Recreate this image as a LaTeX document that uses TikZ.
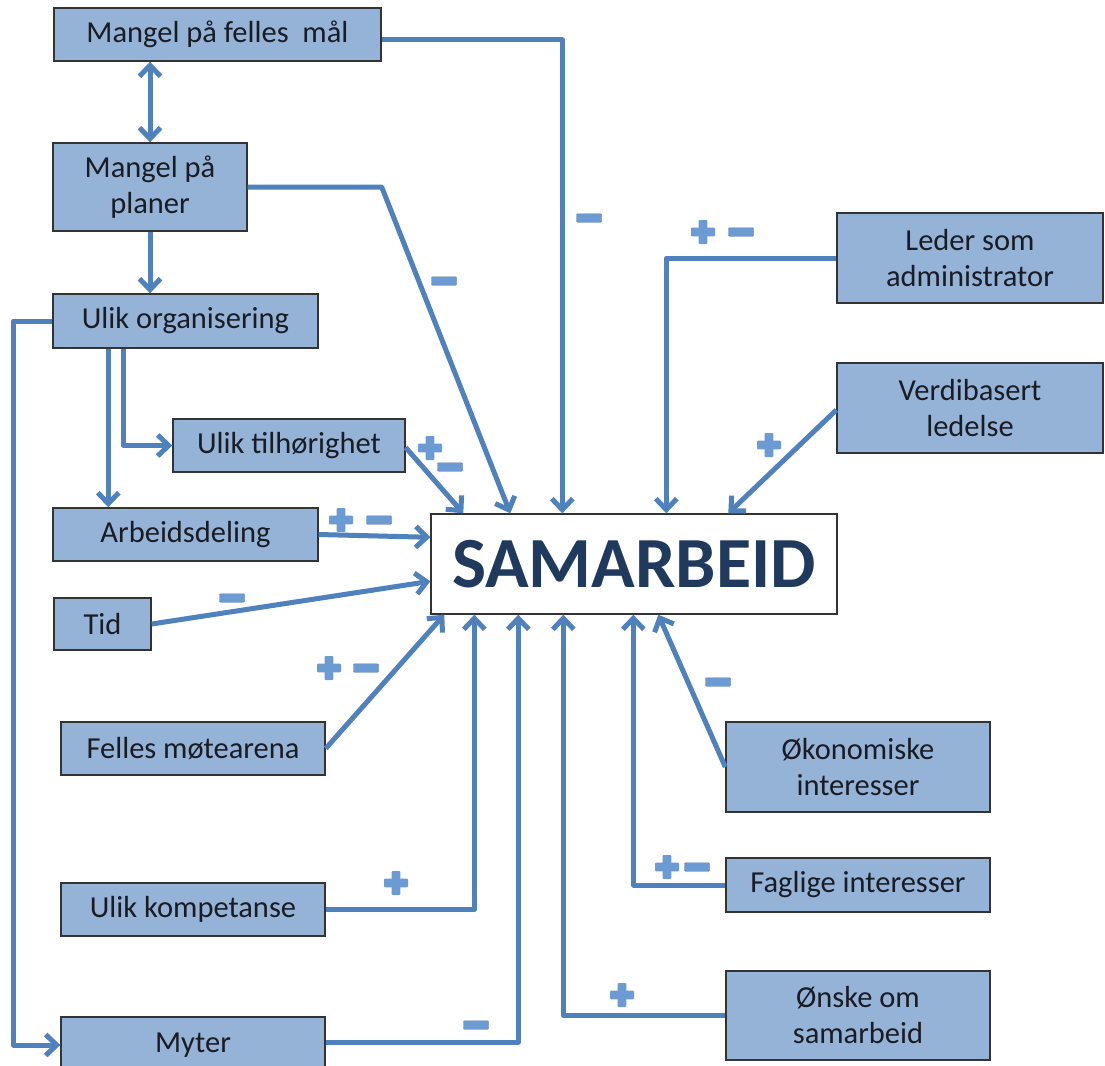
\documentclass[tikz,border=0pt]{standalone}
\usepackage{fontspec}
\setmainfont{Carlito}
\usetikzlibrary{arrows.meta}
\definecolor{boxfill}{HTML}{95B3D7}
\definecolor{linec}{HTML}{4F81BD}
\definecolor{signc}{HTML}{6C9AD2}
\definecolor{titlec}{HTML}{1F3A5C}
\definecolor{textc}{HTML}{1A1C24}
\begin{document}
\begin{tikzpicture}[x=1pt,y=-1pt,
  box/.style={draw=black!80, line width=1.4pt, fill=boxfill, inner sep=0pt, align=center,
    font=\fontsize{30.5}{36}\selectfont, text=textc},
  mainbox/.style={draw=black!80, line width=1.4pt, fill=white, inner sep=0pt,
    font=\fontsize{72}{80}\selectfont\bfseries, text=titlec},
  conn/.style={draw=linec, line width=5pt, line join=round,
    -{Straight Barb[length=11pt,width=21pt]}},
  dbl/.style={draw=linec, line width=5pt,
    {Straight Barb[length=11pt,width=21pt]}-{Straight Barb[length=11pt,width=21pt]}},
  mn/.style={rectangle, fill=signc, draw=signc!80!black, line width=0.4pt, rounded corners=1pt,
    minimum width=25pt, minimum height=8.5pt, inner sep=0pt},
  pl/.style={rectangle, minimum width=24pt, minimum height=24pt, inner sep=0pt,
    path picture={
      \fill[signc, rounded corners=1pt] ([xshift=-4.4pt]path picture bounding box.north) rectangle ([xshift=4.4pt]path picture bounding box.south);
      \fill[signc, rounded corners=1pt] ([yshift=4.4pt]path picture bounding box.west) rectangle ([yshift=-4.4pt]path picture bounding box.east);
    }},
]
\useasboundingbox[fill=white] (0,0) rectangle (1105,1065);

% boxes
\node[box, minimum width=327pt, minimum height=53pt] (fm) at (217.5,34.5) {Mangel på felles\ \ mål};
\node[box, minimum width=194pt, minimum height=88pt] (pln) at (150,187) {Mangel på\\planer};
\node[box, minimum width=265pt, minimum height=54pt] (uo) at (185.5,321) {Ulik organisering};
\node[box, minimum width=232pt, minimum height=53pt] (ut) at (289,445.5) {Ulik tilhørighet};
\node[box, minimum width=265pt, minimum height=53pt] (ad) at (185.5,534.5) {Arbeidsdeling};
\node[box, minimum width=97pt, minimum height=52pt] (tid) at (102.5,624) {Tid};
\node[box, minimum width=264pt, minimum height=53pt] (fmo) at (193,748.5) {Felles møtearena};
\node[box, minimum width=264pt, minimum height=53pt] (uk) at (193,909.5) {Ulik kompetanse};
\node[box, minimum width=264pt, minimum height=56pt] (my) at (193,1045) {Myter};
\node[mainbox, minimum width=406pt, minimum height=100pt] (sam) at (634,564) {SAMARBEID};
\node[box, minimum width=266pt, minimum height=90pt] (ld) at (970,258) {Leder som\\administrator};
\node[box, minimum width=266pt, minimum height=90pt] (vb) at (970,408) {Verdibasert\\ledelse};
\node[box, minimum width=264pt, minimum height=90pt] (ok) at (858,767) {Økonomiske\\interesser};
\node[box, minimum width=264pt, minimum height=54pt] (fg) at (858,885) {Faglige interesser};
\node[box, minimum width=264pt, minimum height=89pt] (on) at (858,1015.5) {Ønske om\\samarbeid};

% connectors
\draw[conn] ([yshift=-5.5pt]fm.east) -| ([xshift=132pt]sam.north west);
\draw[dbl] (pln.north |- fm.south) -- (pln.north);
\draw[conn] (pln.south) -- (pln.south |- uo.north);
\draw[conn] (pln.east) -- ++(134,0) -- ([xshift=80pt]sam.north west);
\draw[conn] (uo.west) -- ++(-39,0) |- (my.west);
\draw[conn] ([xshift=56pt]uo.south west) -- ([xshift=56pt]ad.north west);
\draw[conn] ([xshift=71pt]uo.south west) |- (ut.west);
\draw[conn] ([yshift=-2pt]ut.east) -- ([xshift=33pt]sam.north west);
\draw[conn] (ad.east) -- ([yshift=-24pt]sam.north west);
\draw[conn] (tid.east) -- ([yshift=-68pt]sam.north west);
\draw[conn] (fmo.east) -- ([xshift=14pt]sam.south west);
\draw[conn] (uk.east) -| ([xshift=44pt]sam.south west);
\draw[conn] ([yshift=3pt]my.east) -| ([xshift=88pt]sam.south west);
\draw[conn] (on.west) -| ([xshift=133pt]sam.south west);
\draw[conn] (fg.west) -| ([xshift=203pt]sam.south west);
\draw[conn] (ok.west) -- ([xshift=228pt]sam.south west);
\draw[conn] (ld.west) -| ([xshift=236pt]sam.north west);
\draw[conn] ([yshift=-2pt]vb.west) -- ([xshift=298pt]sam.north west);

% signs
\node[mn] (s1) at (589,218) {};
\node[mn] (s2) at (444,281) {};
\node[pl] (s3) at (430,448) {};
\node[mn] (s4) at (450,467) {};
\node[pl] (s5) at (341,520) {};
\node[mn] (s6) at (379,520) {};
\node[mn] (s7) at (232,598) {};
\node[pl] (s8) at (329,668) {};
\node[mn] (s9) at (366,668) {};
\node[pl] (s10) at (396,883) {};
\node[mn] (s11) at (476,1025) {};
\node[pl] (s12) at (622,995) {};
\node[pl] (s13) at (667,867) {};
\node[mn] (s14) at (697,867) {};
\node[mn] (s15) at (718,682) {};
\node[pl] (s16) at (703,232) {};
\node[mn] (s17) at (741,232) {};
\node[pl] (s18) at (769,445) {};
\end{tikzpicture}
\end{document}
